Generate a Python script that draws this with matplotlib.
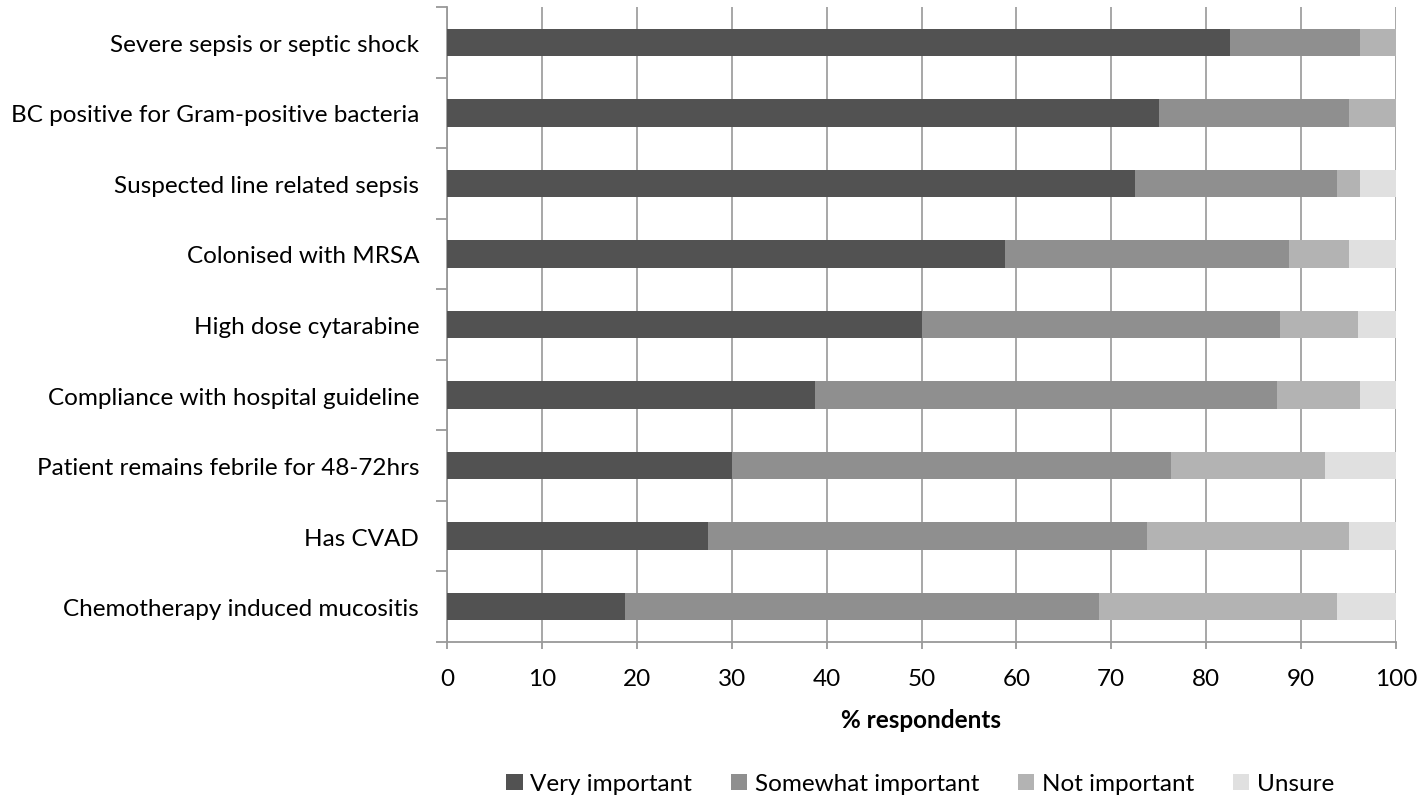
import numpy as np
import matplotlib
matplotlib.use("Agg")
import matplotlib.pyplot as plt
from matplotlib.patches import Patch

plt.rcParams['font.family'] = ['Lato', 'DejaVu Sans']

# categories, top to bottom
categories = ["Severe sepsis or septic shock",
              "BC positive for Gram-positive bacteria",
              "Suspected line related sepsis",
              "Colonised with MRSA",
              "High dose cytarabine",
              "Compliance with hospital guideline",
              "Patient remains febrile for 48-72hrs",
              "Has CVAD",
              "Chemotherapy induced mucositis"]

very_important = [82.5, 75.0, 72.5, 58.75, 50.0, 38.75, 30.0, 27.5, 18.75]
somewhat_important = [13.75, 20.0, 21.25, 30.0, 37.8, 48.75, 46.25, 46.25, 50.0]
not_important = [3.75, 5.0, 2.5, 6.25, 8.2, 8.75, 16.25, 21.25, 25.0]
unsure = [0.0, 0.0, 3.75, 5.0, 4.0, 3.75, 7.5, 5.0, 6.25]

series = [("Very important", very_important, "#525252"),
          ("Somewhat important", somewhat_important, "#8f8f8f"),
          ("Not important", not_important, "#b3b3b3"),
          ("Unsure", unsure, "#e0e0e0")]

fs = 17.5

fig = plt.figure(figsize=(14.22, 8.03), dpi=100)
ax = fig.add_axes([447/1422, 160/803, 949/1422, 635/803])

y = np.arange(len(categories))
left = np.zeros(len(categories))
for name, vals, col in series:
    vals = np.array(vals)
    ax.barh(y, vals, left=left, height=0.39, color=col, zorder=3)
    left = left + vals

ax.set_xlim(0, 100)
ax.set_ylim(len(categories) - 0.5, -0.5)
ax.set_xticks(np.arange(0, 101, 10))
ax.set_yticks(y)
ax.set_yticklabels(categories)
ax.set_yticks(np.arange(-0.5, len(categories)), minor=True)
ax.tick_params(axis='y', which='major', length=0, labelsize=fs, pad=20)
ax.tick_params(axis='y', which='minor', length=8, color='#999999', width=1.3)
ax.tick_params(axis='x', which='major', length=5, color='#999999', width=1.3, labelsize=fs, pad=14)
ax.grid(axis='x', color='#a0a0a0', linewidth=1.3, zorder=0)

for s in ['top', 'right']:
    ax.spines[s].set_visible(False)
for s in ['left', 'bottom']:
    ax.spines[s].set_color('#999999')
    ax.spines[s].set_linewidth(1.3)

fig.text(921/1422, 1 - 721/803, "% respondents", fontsize=fs, fontweight='bold',
         ha='center', va='center')

handles = [Patch(facecolor=col, label=name) for name, vals, col in series]
fig.legend(handles=handles, loc='center', bbox_to_anchor=(920/1422, 1 - 785/803),
           ncol=4, frameon=False, fontsize=fs, handlelength=0.68, handleheight=0.68,
           handletextpad=0.3, columnspacing=1.6, borderpad=0.1)

fig.savefig("out.png", dpi=100)
